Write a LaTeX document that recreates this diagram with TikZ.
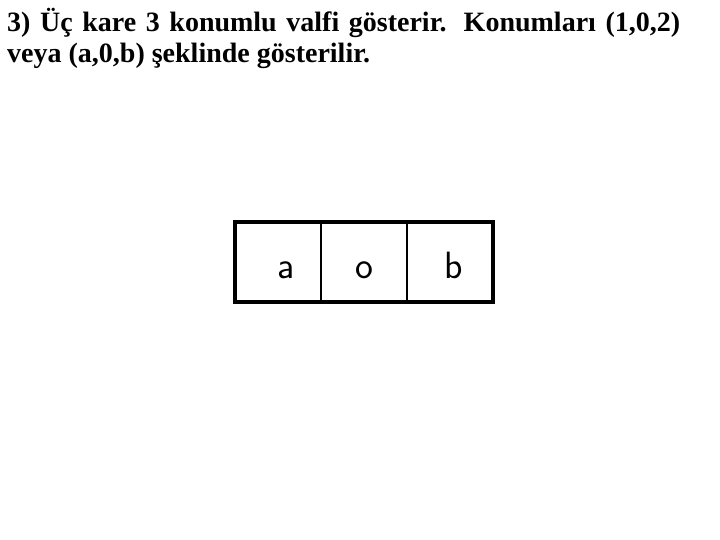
\documentclass[tikz,border=0pt]{standalone}
\usepackage{fontspec}
\setmainfont{Liberation Serif}
\usepackage{tikz}
\usetikzlibrary{positioning}
\tikzset{
    %Define style for the heading text
    yazi/.style={
           anchor=north west,
           inner sep=0pt,
           text width=673bp,
           align=justify,
           font=\bfseries\fontsize{28bp}{31bp}\selectfont},
    %Define style for boxes
    kare/.style={
           rectangle,
           draw=black, line width=2.5bp,
           minimum width=86bp,
           minimum height=80bp,
           inner sep=0pt, outer sep=0pt,
           text height=32bp, text depth=0bp,
           font=\sffamily\fontsize{38bp}{38bp}\selectfont},
    % Define style for the outer frame
    cerceve/.style={
           draw=black, line width=4bp}
}

\begin{document}
\begin{tikzpicture}[x=1bp, y=-1bp]
  \useasboundingbox (0,0) rectangle (720,540);
  \node[yazi] (baslik) at (7,8) {3) Üç kare 3 konumlu valfi gösterir. Konumları (1,0,2)\linebreak veya (a,0,b) şeklinde gösterilir.};
  \node[kare] (ka) at (278,262) {\hspace*{16bp}a};
  \node[kare] (ko) [right=0bp of ka] {o};
  \node[kare] (kb) [right=0bp of ko] {\hspace*{8bp}b};
  \draw[cerceve] (ka.north west) rectangle (kb.south east);
\end{tikzpicture}
\end{document}
